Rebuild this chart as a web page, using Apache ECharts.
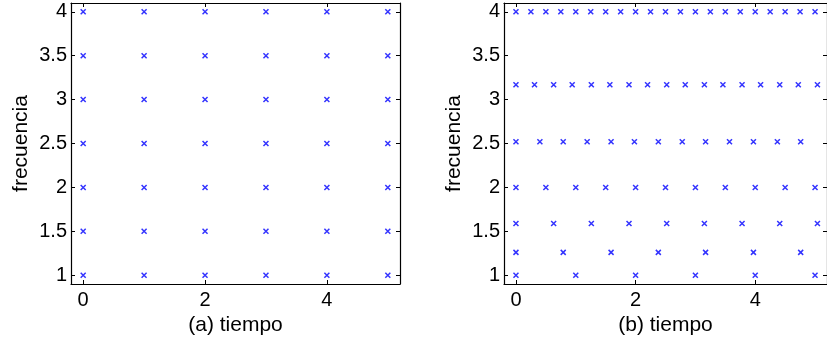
<!DOCTYPE html>
<html>
<head>
<meta charset="utf-8">
<script src="https://cdn.jsdelivr.net/npm/echarts@6/dist/echarts.min.js"></script>
<style>
  html, body { margin: 0; padding: 0; background: #fff; }
  #chart { width: 827px; height: 341px; }
</style>
</head>
<body>
<div id="chart"></div>
<script>
// (a) uniform time-frequency grid
const timesA = [0, 1, 2, 3, 4, 5];
const freqsA = [1, 1.5, 2, 2.5, 3, 3.5, 4];

// (b) constant-Q tiling: one list of sample times per frequency row
const freqsB = [1, 1.26, 1.59, 2, 2.52, 3.17, 4];
const timesB = [
  [0, 1, 2, 3, 4, 5],
  [0, 0.79, 1.59, 2.38, 3.17, 3.97, 4.76],
  [0, 0.63, 1.26, 1.89, 2.52, 3.15, 3.78, 4.41, 5.04],
  [0, 0.5, 1, 1.5, 2, 2.5, 3, 3.5, 4, 4.5, 5],
  [0, 0.4, 0.79, 1.19, 1.59, 1.98, 2.38, 2.78, 3.17, 3.57, 3.97, 4.37, 4.76],
  [0, 0.31, 0.63, 0.94, 1.26, 1.57, 1.89, 2.2, 2.52, 2.83, 3.15, 3.46, 3.78, 4.09, 4.41, 4.72, 5.04],
  [0, 0.25, 0.5, 0.75, 1, 1.25, 1.5, 1.75, 2, 2.25, 2.5, 2.75, 3, 3.25, 3.5, 3.75, 4, 4.25, 4.5, 4.75, 5]
];

// axis ticks
const xTicks = [0, 2, 4];
const yTicks = [1, 1.5, 2, 2.5, 3, 3.5, 4];
const xNames = ['(a) tiempo', '(b) tiempo'];
const yName = 'frecuencia';

const pointsA = [];
freqsA.forEach(f => timesA.forEach(t => pointsA.push([t, f])));
const pointsB = [];
freqsB.forEach((f, i) => timesB[i].forEach(t => pointsB.push([t, f])));

const FONT = 'Liberation Sans, Arial, Helvetica, sans-serif';
const lineStyle = { color: '#000', width: 1.2 };

function xAxes(gi, name) {
  return [
    {
      type: 'value', gridIndex: gi, position: 'bottom', min: -0.2, max: 5.2,
      name: name, nameLocation: 'middle', nameGap: 26,
      nameTextStyle: { fontFamily: FONT, fontSize: 21, color: '#000' },
      axisLine: { show: true, onZero: false, lineStyle },
      axisTick: { show: true, inside: true, length: 4, lineStyle: { color: '#000', width: 1 }, customValues: xTicks },
      axisLabel: { fontFamily: FONT, fontSize: 20, color: '#000', margin: 6, customValues: xTicks },
      splitLine: { show: false }
    },
    {
      type: 'value', gridIndex: gi, position: 'top', min: -0.2, max: 5.2,
      axisLine: { show: true, onZero: false, lineStyle },
      axisTick: { show: true, inside: true, length: 4, lineStyle: { color: '#000', width: 1 }, customValues: xTicks },
      axisLabel: { show: false },
      splitLine: { show: false }
    }
  ];
}
function yAxes(gi) {
  return [
    {
      type: 'value', gridIndex: gi, position: 'left', min: 0.9, max: 4.1,
      name: yName, nameLocation: 'middle', nameGap: 39,
      nameTextStyle: { fontFamily: FONT, fontSize: 21, color: '#000' },
      axisLine: { show: true, onZero: false, lineStyle },
      axisTick: { show: true, inside: true, length: 4, lineStyle: { color: '#000', width: 1 }, customValues: yTicks },
      axisLabel: { fontFamily: FONT, fontSize: 20, color: '#000', margin: 4, customValues: yTicks },
      splitLine: { show: false }
    },
    {
      type: 'value', gridIndex: gi, position: 'right', min: 0.9, max: 4.1,
      axisLine: { show: true, onZero: false, lineStyle },
      axisTick: { show: true, inside: true, length: 4, lineStyle: { color: '#000', width: 1 }, customValues: yTicks },
      axisLabel: { show: false },
      splitLine: { show: false }
    }
  ];
}

const cross = 'path://M0,0L10,10M10,0L0,10';
function scatter(xi, yi, data) {
  return {
    type: 'scatter', xAxisIndex: xi, yAxisIndex: yi, data: data,
    symbol: cross, symbolSize: 5, silent: true, animation: false,
    itemStyle: { color: 'none', borderColor: '#0000ff', borderWidth: 1.5 }
  };
}

const chart = echarts.init(document.getElementById('chart'), null, { renderer: 'canvas' });
chart.setOption({
  animation: false,
  backgroundColor: '#fff',
  grid: [
    { left: 71, top: 3, width: 329, height: 281 },
    { left: 504, top: 3, width: 329, height: 281 }
  ],
  xAxis: [...xAxes(0, xNames[0]), ...xAxes(1, xNames[1])],
  yAxis: [...yAxes(0), ...yAxes(1)],
  series: [scatter(0, 0, pointsA), scatter(2, 2, pointsB)]
});
</script>
</body>
</html>
